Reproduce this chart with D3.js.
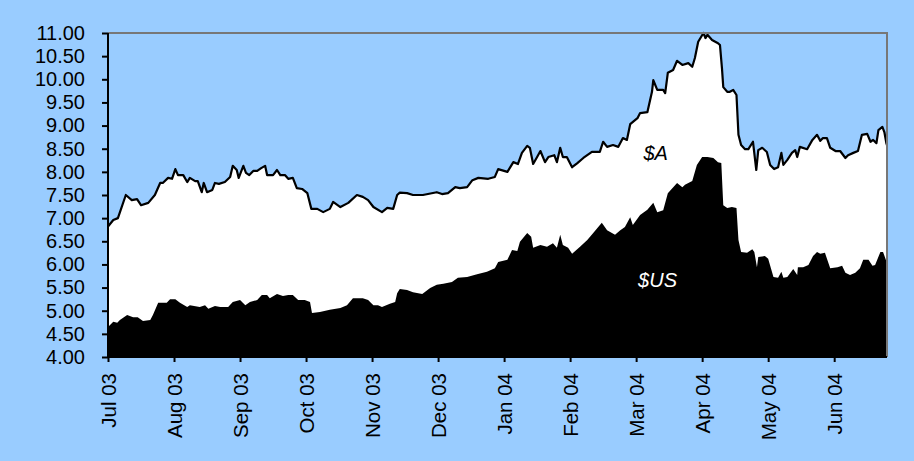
<!DOCTYPE html>
<html><head><meta charset="utf-8">
<script src="https://cdn.jsdelivr.net/npm/d3@7"></script>
<style>html,body{margin:0;padding:0;background:#99CCFF;}svg{display:block;}</style>
</head><body><svg id="c" width="914" height="461"></svg>
<script>
// Month tick labels (x positions are month offsets from Jul 03, equally spaced)
const monthLabels = ["Jul 03","Aug 03","Sep 03","Oct 03","Nov 03","Dec 03","Jan 04","Feb 04","Mar 04","Apr 04","May 04","Jun 04"];
const yTicks = [4,4.5,5,5.5,6,6.5,7,7.5,8,8.5,9,9.5,10,10.5,11];

// $A series: month offset, value
const audT = [0.00,0.08,0.15,0.27,0.36,0.44,0.50,0.61,0.71,0.79,0.83,0.91,0.97,1.02,1.06,1.14,1.20,1.24,1.32,1.36,1.42,1.45,1.50,1.58,1.62,1.68,1.77,1.85,1.89,1.95,1.98,2.05,2.09,2.14,2.20,2.26,2.32,2.38,2.41,2.50,2.56,2.61,2.68,2.73,2.80,2.86,2.94,3.02,3.08,3.17,3.26,3.36,3.41,3.52,3.64,3.77,3.86,3.94,4.02,4.15,4.23,4.32,4.38,4.42,4.53,4.62,4.77,4.98,5.06,5.15,5.26,5.33,5.44,5.52,5.61,5.76,5.86,5.91,6.05,6.14,6.21,6.27,6.35,6.39,6.44,6.50,6.55,6.62,6.67,6.76,6.80,6.85,6.89,6.95,7.03,7.11,7.20,7.33,7.45,7.50,7.56,7.65,7.73,7.80,7.86,7.91,8.02,8.06,8.17,8.24,8.26,8.32,8.41,8.44,8.48,8.56,8.62,8.70,8.79,8.85,8.89,8.94,9.02,9.05,9.08,9.15,9.24,9.27,9.30,9.32,9.38,9.42,9.47,9.52,9.55,9.59,9.65,9.70,9.77,9.82,9.85,9.91,9.98,10.03,10.09,10.15,10.20,10.23,10.29,10.36,10.41,10.44,10.48,10.59,10.67,10.74,10.79,10.83,10.89,10.94,11.02,11.09,11.17,11.21,11.29,11.36,11.42,11.50,11.55,11.59,11.64,11.67,11.73,11.76,11.79,11.80];
const audV = [6.82,6.96,7.00,7.50,7.39,7.41,7.28,7.33,7.50,7.76,7.76,7.87,7.85,8.06,7.93,7.93,7.78,7.87,7.80,7.80,7.56,7.76,7.56,7.61,7.76,7.74,7.78,7.89,8.13,8.04,7.87,8.13,7.98,7.93,8.02,8.02,8.08,8.13,7.93,7.93,8.04,7.93,7.93,7.85,7.87,7.65,7.63,7.54,7.20,7.20,7.13,7.20,7.35,7.24,7.33,7.50,7.46,7.39,7.24,7.13,7.22,7.20,7.50,7.55,7.54,7.50,7.50,7.56,7.52,7.54,7.67,7.65,7.67,7.82,7.87,7.85,7.89,8.06,8.00,8.21,8.17,8.41,8.56,8.52,8.17,8.32,8.45,8.21,8.32,8.36,8.21,8.52,8.32,8.32,8.10,8.19,8.30,8.43,8.43,8.65,8.54,8.58,8.54,8.73,8.69,9.03,9.16,9.27,9.29,9.73,9.98,9.77,9.77,9.70,10.14,10.20,10.40,10.31,10.35,10.27,10.46,10.81,11.00,10.89,10.96,10.85,10.78,10.74,10.24,9.83,9.73,9.73,9.77,9.66,8.80,8.58,8.49,8.49,8.65,8.04,8.47,8.52,8.43,8.15,8.06,8.10,8.41,8.15,8.26,8.41,8.47,8.32,8.54,8.49,8.69,8.80,8.67,8.73,8.73,8.52,8.45,8.45,8.30,8.36,8.41,8.45,8.80,8.82,8.65,8.69,8.62,8.90,8.97,8.86,8.62,8.58];

// $US series: month offset, value
const usdT = [0.00,0.08,0.14,0.18,0.29,0.38,0.45,0.53,0.64,0.68,0.76,0.89,0.94,1.02,1.09,1.20,1.24,1.39,1.47,1.52,1.62,1.70,1.82,1.89,2.00,2.08,2.15,2.26,2.33,2.41,2.45,2.56,2.65,2.73,2.80,2.88,2.98,3.06,3.09,3.21,3.36,3.52,3.62,3.71,3.86,3.94,4.02,4.09,4.15,4.27,4.35,4.38,4.42,4.53,4.62,4.76,4.88,4.98,5.08,5.21,5.30,5.44,5.59,5.74,5.86,5.91,6.05,6.12,6.20,6.24,6.35,6.41,6.44,6.55,6.65,6.74,6.80,6.85,6.89,6.97,7.03,7.15,7.26,7.35,7.48,7.56,7.68,7.76,7.83,7.91,7.95,8.06,8.17,8.26,8.32,8.41,8.48,8.62,8.70,8.74,8.82,8.85,8.92,9.00,9.08,9.17,9.24,9.29,9.32,9.38,9.45,9.52,9.55,9.59,9.68,9.76,9.79,9.83,9.85,9.95,10.00,10.08,10.15,10.20,10.23,10.29,10.38,10.44,10.45,10.53,10.61,10.68,10.74,10.79,10.86,10.94,11.05,11.12,11.17,11.24,11.32,11.39,11.44,11.52,11.58,11.62,11.70,11.74,11.80];
const usdV = [4.65,4.76,4.74,4.80,4.91,4.86,4.86,4.78,4.80,4.91,5.17,5.17,5.25,5.25,5.17,5.08,5.12,5.08,5.12,5.04,5.10,5.08,5.08,5.19,5.23,5.12,5.19,5.23,5.34,5.34,5.27,5.36,5.32,5.34,5.34,5.23,5.23,5.19,4.95,4.97,5.02,5.06,5.12,5.27,5.27,5.23,5.12,5.12,5.08,5.15,5.19,5.38,5.47,5.45,5.40,5.36,5.49,5.56,5.58,5.62,5.71,5.73,5.79,5.84,5.92,6.05,6.10,6.31,6.29,6.49,6.68,6.60,6.36,6.42,6.38,6.46,6.36,6.64,6.42,6.36,6.23,6.38,6.53,6.68,6.90,6.74,6.64,6.74,6.81,7.02,6.85,7.07,7.18,7.33,7.13,7.17,7.54,7.76,7.67,7.72,7.78,7.80,8.15,8.32,8.32,8.30,8.21,8.19,7.28,7.22,7.24,7.22,6.53,6.27,6.25,6.33,6.27,5.94,6.16,6.18,6.12,5.73,5.71,5.84,5.71,5.73,5.90,5.77,5.94,5.94,5.99,6.18,6.27,6.23,6.25,5.92,5.94,5.97,5.82,5.77,5.82,5.92,6.10,6.10,5.97,5.99,6.27,6.27,6.03];

const seriesLabels = ["$A","$US"];

const svg = d3.select("#c");
const L = 108, R = 887, T = 33, B = 357;
const x = d3.scaleLinear().domain([0, 11.8]).range([L, R]);
const y = d3.scaleLinear().domain([4, 11]).range([B, T]);

svg.append("rect").attr("width",914).attr("height",461).attr("fill","#99CCFF");

const aud = audT.map((t,i)=>({t, v: audV[i]}));
const usd = usdT.map((t,i)=>({t, v: usdV[i]}));

const area = d3.area().x(d=>x(d.t)).y0(y(4)).y1(d=>y(d.v));
const line = d3.line().x(d=>x(d.t)).y(d=>y(d.v));

svg.append("path").datum(aud).attr("d", area).attr("fill","#ffffff");
svg.append("path").datum(aud).attr("d", line).attr("fill","none").attr("stroke","#000").attr("stroke-width",2.2).attr("stroke-linejoin","round");
svg.append("path").datum(usd).attr("d", area).attr("fill","#000");

// frame: top and right grey
svg.append("path").attr("d", `M${L},${T}H${R}V${B}`).attr("fill","none").attr("stroke","#777").attr("stroke-width",2);

// y axis
const yAxis = svg.append("g").attr("transform",`translate(${L},0)`)
  .call(d3.axisLeft(y).tickValues(yTicks).tickFormat(d3.format(".2f")).tickSize(6).tickPadding(17));
yAxis.select(".domain").attr("stroke","#000").attr("stroke-width",2).attr("d",`M0,${T}V${B}`);
yAxis.selectAll(".tick line").attr("stroke","#000").attr("stroke-width",2);
yAxis.selectAll("text").attr("font-family","Liberation Sans, Arial, sans-serif").attr("font-size","20px").attr("fill","#000");

// x axis
const xAxis = svg.append("g").attr("transform",`translate(0,${B})`)
  .call(d3.axisBottom(x).tickValues(d3.range(monthLabels.length)).tickFormat(i=>monthLabels[i]).tickSize(5));
xAxis.select(".domain").attr("stroke","#000").attr("stroke-width",2).attr("d",`M${L},0H${R}`);
xAxis.selectAll(".tick line").attr("stroke","#000").attr("stroke-width",2);
xAxis.selectAll("text")
  .attr("font-family","Liberation Sans, Arial, sans-serif").attr("font-size","20.5px").attr("fill","#000")
  .attr("text-anchor","end").attr("dy","0.35em")
  .attr("transform","rotate(-90)").attr("x",-16).attr("y",0);

// series labels
svg.append("text").attr("x", x(8.11)).attr("y", y(8.26)).text(seriesLabels[0])
  .attr("font-family","Liberation Sans, Arial, sans-serif").attr("font-size","20px").attr("font-style","italic").attr("fill","#000");
svg.append("text").attr("x", x(8.03)).attr("y", y(5.51)).text(seriesLabels[1])
  .attr("font-family","Liberation Sans, Arial, sans-serif").attr("font-size","20px").attr("font-style","italic").attr("fill","#fff");
</script></body></html>
